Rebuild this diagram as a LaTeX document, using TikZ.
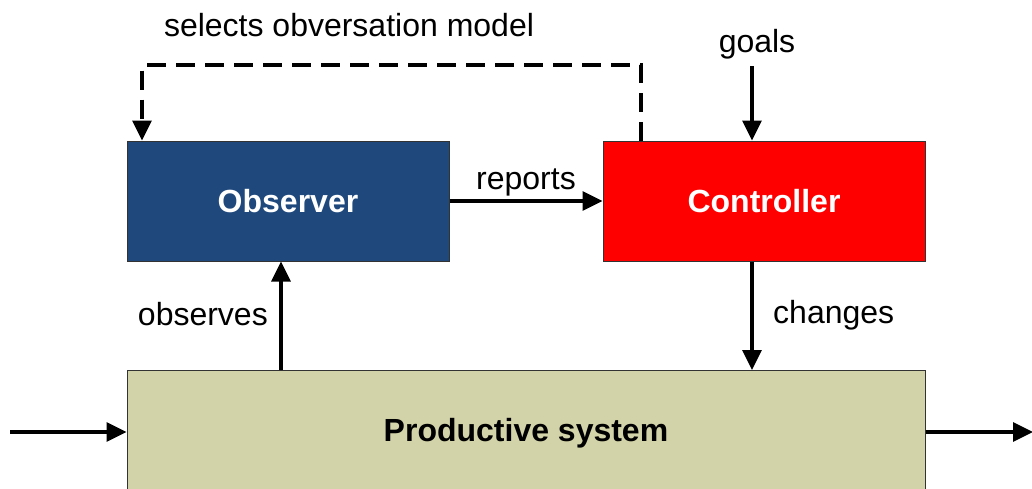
\documentclass[tikz,border=0pt]{standalone}
\usepackage{fontspec}
\setmainfont{Liberation Sans}
\usetikzlibrary{arrows.meta}
\definecolor{obsblue}{HTML}{1F497D}
\definecolor{ctrlred}{HTML}{FF0000}
\definecolor{prodtan}{HTML}{D3D3A9}
\definecolor{edgegray}{HTML}{333333}
\tikzset{
  lbl/.style={font=\fontsize{32}{37}\selectfont, inner sep=0pt},
  blk/.style={draw=edgegray, line width=1pt, inner sep=0pt,
              font=\fontsize{32}{37}\selectfont\bfseries},
  flow/.style={line width=3.2pt, -{Triangle[length=20pt,width=19pt]}},
  feedback/.style={flow, dash pattern=on 19pt off 10pt},
}
\begin{document}
\begin{tikzpicture}[x=1pt,y=-1pt]
  \useasboundingbox (0,0) rectangle (1032,488);
  \clip (0,0) rectangle (1032,488);

  % blocks
  \node[blk, fill=obsblue, text=white, minimum width=322pt, minimum height=120pt]
    (obs) at (288,201) {Observer};
  \node[blk, fill=ctrlred, text=white, minimum width=322pt, minimum height=120pt]
    (ctrl) at (764,201) {Controller};
  \node[blk, fill=prodtan, text=black, minimum width=798pt, minimum height=130pt,
        anchor=north] (prod) at (526,370) {};
  \node[blk, draw=none, anchor=center] (prodtxt) at (526,433) {Productive system};

  % free ends
  \coordinate (goalsrc) at (752,66);
  \coordinate (inlet) at (10,432);
  \coordinate (outlet) at (1032,432);

  % connectors
  \draw[feedback] (ctrl.north -| 641,0) -- (641,65) -- (142,65) -- (obs.north -| 142,0);
  \draw[flow] (goalsrc) -- (ctrl.north -| goalsrc);
  \draw[flow] (obs.east |- 0,201) -- (ctrl.west |- 0,201);
  \draw[flow] (prod.north -| 281,0) -- (obs.south -| 281,0);
  \draw[flow] (ctrl.south -| 752,0) -- (prod.north -| 752,0);
  \draw[flow] (inlet) -- (prod.west |- inlet);
  \draw[flow, shorten >=-1pt] (prod.east |- outlet) -- (outlet);

  % labels
  \node[lbl] (selects) at (349,25) {selects obversation model};
  \node[lbl] (goals) at (757,44) {goals};
  \node[lbl] (reports) at (526,182) {reports};
  \node[lbl, anchor=east] (observes) at (268,314) {observes};
  \node[lbl, anchor=west] (changes) at (773,315) {changes};
\end{tikzpicture}
\end{document}
